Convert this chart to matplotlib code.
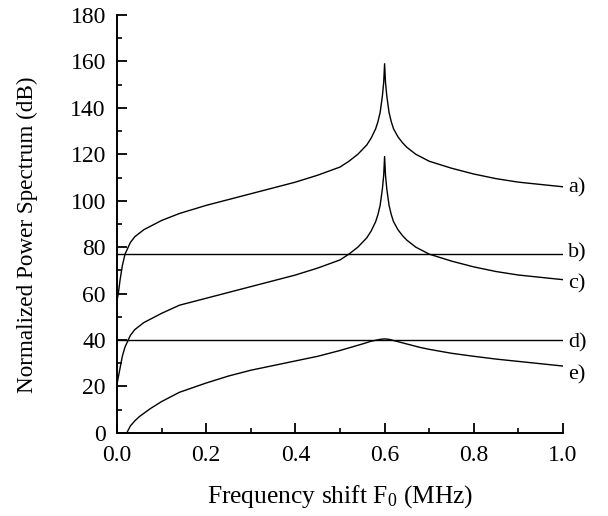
import matplotlib
matplotlib.use("Agg")
import matplotlib.pyplot as plt
from matplotlib.ticker import MultipleLocator

plt.rcParams["font.family"] = ["Liberation Serif", "DejaVu Serif"]
plt.rcParams["mathtext.fontset"] = "custom"
plt.rcParams["mathtext.rm"] = "Liberation Serif"
plt.rcParams["mathtext.it"] = "Liberation Serif"

# 读图得到的数据 (频移 MHz / 归一化功率谱 dB)
f_ac = [0, 0.003, 0.007, 0.012, 0.018, 0.03, 0.04, 0.05, 0.06, 0.075, 0.1,
        0.14, 0.2, 0.25, 0.3, 0.35, 0.4, 0.45, 0.5, 0.52, 0.54, 0.56, 0.57,
        0.58, 0.585, 0.59, 0.595, 0.598, 0.6, 0.602, 0.605, 0.61, 0.615,
        0.62, 0.63, 0.64, 0.65, 0.67, 0.7, 0.75, 0.8, 0.85, 0.9, 0.95, 1.0]
curve_a = [57, 60, 66, 72, 77, 82, 84.5, 86, 87.5, 89, 91.5,
           94.5, 98, 100.5, 103, 105.5, 108, 111, 114.5, 117, 120, 124, 127,
           131, 134, 138, 145, 151, 159, 151, 145, 138, 134,
           131, 127.5, 125, 123, 120, 117, 114, 111.5, 109.5, 108, 107, 106]
curve_c = [21, 24, 28, 33, 37, 42, 44.5, 46, 47.5, 49, 51.5,
           55, 58, 60.5, 63, 65.5, 68, 71, 74.5, 77, 80, 84, 87,
           91, 94, 98, 105, 111, 119, 111, 105, 98, 94,
           91, 87.5, 85, 83, 80, 77, 74, 71.5, 69.5, 68, 67, 66]

f_bd = [0, 1.0]
curve_b = [77, 77]
curve_d = [40, 40]

f_e = [0.022, 0.03, 0.04, 0.05, 0.075, 0.1, 0.14, 0.2, 0.25, 0.3, 0.35, 0.4,
       0.45, 0.5, 0.55, 0.57, 0.59, 0.6, 0.61, 0.63, 0.65, 0.68, 0.7, 0.75,
       0.8, 0.85, 0.9, 0.95, 1.0]
curve_e = [0, 3, 5.2, 7, 10.5, 13.5, 17.5, 21.5, 24.5, 27, 29, 31,
           33, 35.5, 38.3, 39.5, 40.3, 40.5, 40.3, 39.3, 38.3, 36.8, 36, 34.3,
           33, 31.8, 30.8, 29.8, 28.8]

labels = ["a)", "b)", "c)", "d)", "e)"]
label_y = [105.5, 77.5, 64, 39, 25]


def main():
    fig = plt.figure(figsize=(6.08, 5.16), dpi=100)
    ax = fig.add_axes([0.1924, 0.161, 0.7336, 0.81])

    for x, y in [(f_ac, curve_a), (f_bd, curve_b), (f_ac, curve_c),
                 (f_bd, curve_d), (f_e, curve_e)]:
        ax.plot(x, y, color="black", lw=1.0)

    for lab, yv in zip(labels, label_y):
        ax.text(1.012, yv, lab, fontsize=16, va="center", ha="left",
                clip_on=False)

    ax.set_xlim(0, 1.0)
    ax.set_ylim(0, 180)
    ax.xaxis.set_major_locator(MultipleLocator(0.2))
    ax.xaxis.set_minor_locator(MultipleLocator(0.1))
    ax.yaxis.set_major_locator(MultipleLocator(20))
    ax.yaxis.set_minor_locator(MultipleLocator(10))
    ax.xaxis.set_major_formatter(lambda v, p: f"{v:.1f}")

    for s in ["top", "right"]:
        ax.spines[s].set_visible(False)
    for s in ["left", "bottom"]:
        ax.spines[s].set_linewidth(1.4)
    ax.tick_params(which="major", direction="in", length=7, width=1.3,
                   labelsize=17)
    ax.tick_params(axis="x", which="major", pad=9)
    ax.tick_params(axis="y", which="major", pad=8)
    ax.tick_params(which="minor", direction="in", length=3.5, width=1.2)

    ax.set_xlabel("Frequency shift F$_0$ (MHz)", fontsize=18.4, labelpad=12)
    ax.set_ylabel("Normalized Power Spectrum (dB)", fontsize=16.7)
    ax.yaxis.set_label_coords(-0.177, 0.474)

    fig.savefig("out.png", dpi=100)
    plt.close(fig)


if __name__ == "__main__":
    main()
